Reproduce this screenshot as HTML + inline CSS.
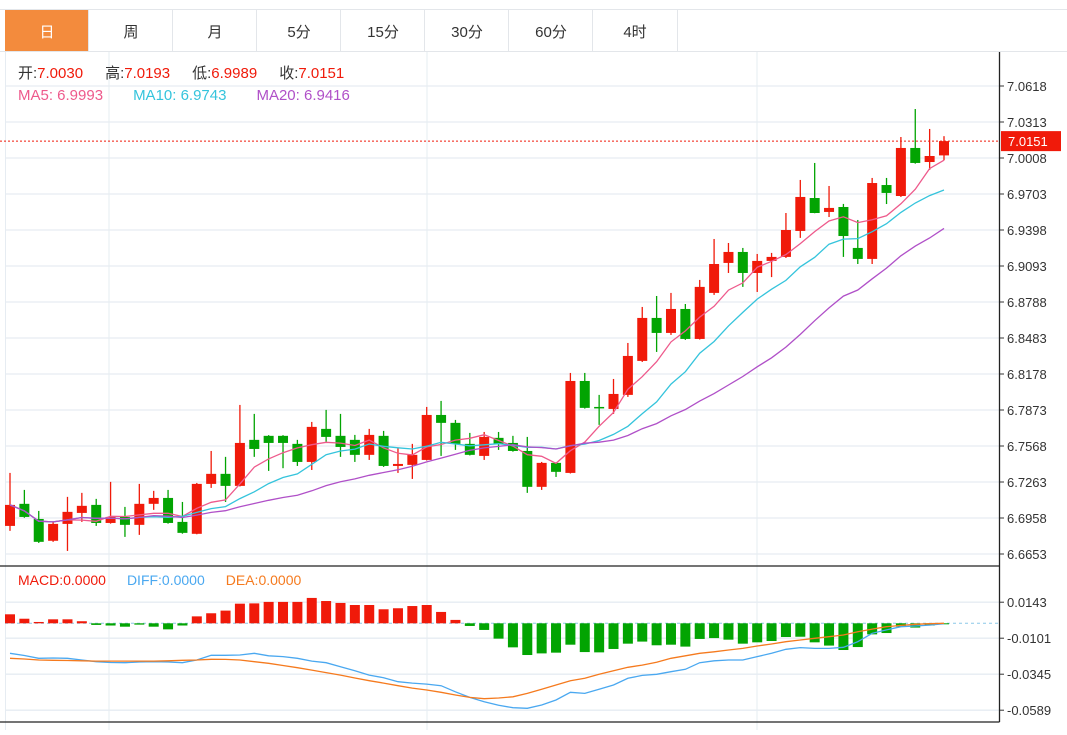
<!DOCTYPE html>
<html><head><meta charset="utf-8">
<style>
html,body{margin:0;padding:0;background:#fff;}
body{width:1067px;height:730px;overflow:hidden;font-family:"Liberation Sans","Noto Sans CJK SC",sans-serif;}
svg text{font-family:"Liberation Sans","Noto Sans CJK SC",sans-serif;}
</style></head>
<body>
<svg id="chart" width="1067" height="730" xmlns="http://www.w3.org/2000/svg">
<g id="tabs">
  <line x1="0" y1="9.5" x2="1067" y2="9.5" stroke="#e3e6ea"/>
  <line x1="0" y1="51.5" x2="1067" y2="51.5" stroke="#e3e6ea"/>
  <rect x="5" y="10" width="83" height="41" fill="#f38b3d"/>
  <text x="47" y="37" font-size="15" fill="#fff" text-anchor="middle">日</text>
  <g fill="#333" font-size="15" text-anchor="middle">
    <text x="131" y="37">周</text>
    <text x="215" y="37">月</text>
    <text x="299" y="37">5分</text>
    <text x="383" y="37">15分</text>
    <text x="467" y="37">30分</text>
    <text x="551" y="37">60分</text>
    <text x="635" y="37">4时</text>
  </g>
  <g stroke="#e3e6ea">
    <line x1="88.5" y1="10" x2="88.5" y2="51"/><line x1="172.5" y1="10" x2="172.5" y2="51"/>
    <line x1="256.5" y1="10" x2="256.5" y2="51"/><line x1="340.5" y1="10" x2="340.5" y2="51"/>
    <line x1="424.5" y1="10" x2="424.5" y2="51"/><line x1="508.5" y1="10" x2="508.5" y2="51"/>
    <line x1="592.5" y1="10" x2="592.5" y2="51"/><line x1="677.5" y1="10" x2="677.5" y2="51"/>
  </g>
</g>
<g id="grid"></g>
<g id="macd"></g>
<g id="candles"></g>
<g id="ma"></g>
<g id="axis"></g>
<g id="legend" font-size="15">
  <text x="18" y="78"><tspan fill="#333">开:</tspan><tspan fill="#f01a0a">7.0030</tspan><tspan fill="#333" dx="22">高:</tspan><tspan fill="#f01a0a">7.0193</tspan><tspan fill="#333" dx="22">低:</tspan><tspan fill="#f01a0a">6.9989</tspan><tspan fill="#333" dx="22">收:</tspan><tspan fill="#f01a0a">7.0151</tspan></text>
  <text x="18" y="100"><tspan fill="#ee5a8c">MA5: 6.9993</tspan><tspan fill="#35c4dc" dx="30">MA10: 6.9743</tspan><tspan fill="#b050c8" dx="30">MA20: 6.9416</tspan></text>
  <text x="18" y="585" font-size="14"><tspan fill="#f01a0a">MACD:0.0000</tspan><tspan fill="#4aa8f0" dx="21">DIFF:0.0000</tspan><tspan fill="#f57a1e" dx="21">DEA:0.0000</tspan></text>
</g>
</svg>
<script>
const opens  = [6.6891,6.7078,6.6950,6.6765,6.6908,6.7001,6.7069,6.6916,6.6967,6.6900,6.7078,6.7128,6.6925,6.6824,6.7247,6.7332,6.7230,6.7620,6.7654,6.7654,6.7586,6.7433,6.7713,6.7654,6.7620,6.7493,6.7654,6.7399,6.7408,6.7450,6.7831,6.7764,6.7586,6.7484,6.7637,6.7594,6.7526,6.7222,6.7425,6.7340,6.8119,6.7899,6.7882,6.8001,6.8289,6.8653,6.8526,6.8729,6.8475,6.8865,6.9119,6.9212,6.9034,6.9136,6.9170,6.9390,6.9669,6.9551,6.9593,6.9246,6.9153,6.9779,6.9686,7.0093,6.9974,7.0030];
const highs  = [6.7340,6.7196,6.7018,6.6925,6.7137,6.7171,6.7120,6.7264,6.7052,6.7247,6.7188,6.7196,6.7094,6.7255,6.7526,6.7476,6.7916,6.7840,6.7660,6.7660,6.7620,6.7772,6.7874,6.7840,6.7662,6.7713,6.7696,6.7552,6.7586,6.7899,6.7950,6.7789,6.7679,6.7687,6.7687,6.7654,6.7645,6.7433,6.7430,6.8187,6.8187,6.8001,6.8136,6.8441,6.8746,6.8839,6.8865,6.8771,6.8975,6.9322,6.9288,6.9246,6.9195,6.9204,6.9542,6.9822,6.9966,6.9771,6.9619,6.9483,6.9839,6.9839,7.0186,7.0423,7.0254,7.0193];
const lows   = [6.6849,6.6960,6.6747,6.6756,6.6679,6.6925,6.6891,6.6910,6.6798,6.6815,6.7027,6.6910,6.6825,6.6820,6.7213,6.7094,6.7225,6.7476,6.7357,6.7380,6.7399,6.7365,6.7603,6.7476,6.7433,6.7450,6.7391,6.7340,6.7289,6.7445,6.7484,6.7535,6.7488,6.7450,6.7535,6.7520,6.7171,6.7196,6.7306,6.7335,6.7885,6.7747,6.7840,6.7984,6.8280,6.8365,6.8509,6.8467,6.8470,6.8848,6.9034,6.8916,6.8873,6.8999,6.9161,6.9331,6.9540,6.9508,6.9170,6.9110,6.9110,6.9618,6.9678,6.9960,6.9907,6.9989];
const closes = [6.7069,6.6967,6.6756,6.6908,6.7010,6.7061,6.6916,6.6967,6.6900,6.7078,6.7128,6.6916,6.6832,6.7247,6.7332,6.7230,6.7594,6.7543,6.7594,6.7594,6.7433,6.7730,6.7645,6.7560,6.7493,6.7662,6.7399,6.7416,6.7493,6.7831,6.7764,6.7586,6.7493,6.7645,6.7586,6.7526,6.7222,6.7425,6.7349,6.8119,6.7891,6.7891,6.8009,6.8331,6.8653,6.8526,6.8729,6.8475,6.8916,6.9110,6.9212,6.9034,6.9136,6.9170,6.9398,6.9678,6.9542,6.9585,6.9347,6.9153,6.9796,6.9712,7.0093,6.9966,7.0025,7.0151];
const priceTicks = [7.0618,7.0313,7.0008,6.9703,6.9398,6.9093,6.8788,6.8483,6.8178,6.7873,6.7568,6.7263,6.6958,6.6653];
const macdHist = [0.0061,0.0031,0.0009,0.0027,0.0027,0.0014,-0.0011,-0.0015,-0.0023,-0.0009,-0.0023,-0.0041,-0.0015,0.0047,0.0068,0.0086,0.0133,0.0135,0.0145,0.0145,0.0145,0.0172,0.0151,0.0138,0.0124,0.0124,0.0095,0.0102,0.0117,0.0124,0.0077,0.0023,-0.0018,-0.0045,-0.0104,-0.0163,-0.0215,-0.0204,-0.0199,-0.0145,-0.0195,-0.0197,-0.0174,-0.0138,-0.0124,-0.0149,-0.0145,-0.0158,-0.0106,-0.0100,-0.0111,-0.0138,-0.0129,-0.0120,-0.0093,-0.0091,-0.0129,-0.0151,-0.0181,-0.0161,-0.0075,-0.0066,-0.0023,-0.0029,-0.0015,-0.0005];
const diffVals = [-0.0203,-0.0218,-0.0237,-0.0235,-0.0237,-0.0249,-0.0260,-0.0266,-0.0267,-0.0262,-0.0260,-0.0262,-0.0267,-0.0249,-0.0217,-0.0217,-0.0215,-0.0203,-0.0220,-0.0226,-0.0237,-0.0256,-0.0267,-0.0294,-0.0321,-0.0351,-0.0369,-0.0396,-0.0405,-0.0412,-0.0423,-0.0464,-0.0502,-0.0532,-0.0556,-0.0572,-0.0576,-0.0554,-0.0520,-0.0468,-0.0475,-0.0447,-0.0418,-0.0373,-0.0353,-0.0346,-0.0328,-0.0312,-0.0267,-0.0254,-0.0249,-0.0249,-0.0226,-0.0203,-0.0176,-0.0165,-0.0170,-0.0170,-0.0163,-0.0125,-0.0068,-0.0045,-0.0023,-0.0018,-0.0012,-0.0003];
const deaVals = [-0.0237,-0.0242,-0.0249,-0.0251,-0.0252,-0.0254,-0.0256,-0.0256,-0.0256,-0.0256,-0.0256,-0.0254,-0.0251,-0.0249,-0.0244,-0.0245,-0.0249,-0.0260,-0.0271,-0.0286,-0.0301,-0.0317,-0.0334,-0.0351,-0.0371,-0.0389,-0.0405,-0.0423,-0.0439,-0.0452,-0.0468,-0.0486,-0.0502,-0.0511,-0.0506,-0.0498,-0.0475,-0.0447,-0.0418,-0.0389,-0.0373,-0.0346,-0.0321,-0.0298,-0.0283,-0.0264,-0.0237,-0.0220,-0.0203,-0.0193,-0.0181,-0.0170,-0.0154,-0.0140,-0.0125,-0.0113,-0.0102,-0.0091,-0.0079,-0.0057,-0.0039,-0.0023,-0.0014,-0.0007,-0.0003,0.0000];
const macdTicks = [0.0143,-0.0101,-0.0345,-0.0589];
const lastPrice = 7.0151;

const NS='http://www.w3.org/2000/svg';
const RED='#f01a0a', GREEN='#02a402';
function mk(tag, attrs, parent){const e=document.createElementNS(NS,tag);for(const k in attrs)e.setAttribute(k,attrs[k]);parent.appendChild(e);return e;}
const xOf = i => 10 + i*(934/(closes.length-1));
const yP = v => 86 + (7.0618 - v)/0.0305*36;
const yM = v => 623.3 - v/0.0244*36;

const grid=document.getElementById('grid');
priceTicks.forEach(t=>{const l=mk('line',{x1:5,x2:999,y1:yP(t),y2:yP(t),stroke:'#e6ecf2','stroke-width':1.3},grid);

});
macdTicks.forEach(t=>{const l=mk('line',{x1:5,x2:999,y1:yM(t),y2:yM(t),stroke:'#e6ecf2','stroke-width':1.3},grid);

});
[5.5,109,427,757].forEach(x=>{const l=mk('line',{x1:x,x2:x,y1:52,y2:730,stroke:'#e6ecf2','stroke-width':1},grid);

});

const cg=document.getElementById('candles');
closes.forEach((c,i)=>{
  const o=opens[i],up=c>=o,col=up?RED:GREEN,x=xOf(i);
  const g=mk('g',{},cg);
  
  
  mk('line',{x1:x,x2:x,y1:yP(highs[i]),y2:yP(lows[i]),stroke:col,'stroke-width':1.3},g);
  const top=yP(Math.max(o,c)),bot=yP(Math.min(o,c));
  mk('rect',{x:x-5,y:top,width:10,height:Math.max(1.5,bot-top),fill:col},g);
});

const mg=document.getElementById('ma');
function ma(n){return closes.map((_,i)=>{const s=Math.max(0,i-n+1);let t=0;for(let k=s;k<=i;k++)t+=closes[k];return t/(i-s+1);});}
[[5,'#ee5a8c','ma5-line'],[10,'#35c4dc','ma10-line'],[20,'#b050c8','ma20-line']].forEach(([n,col,name])=>{
  const d=ma(n).map((v,i)=>(i?'L':'M')+xOf(i).toFixed(1)+','+yP(v).toFixed(1)).join('');
  const p=mk('path',{d:d,fill:'none',stroke:col,'stroke-width':1.3},mg);
  
  
});

const macdG=document.getElementById('macd');
const zl=mk('line',{x1:5,x2:999,y1:yM(0),y2:yM(0),stroke:'#8cc8e8','stroke-dasharray':'3,3'},macdG);


macdHist.forEach((v,i)=>{
  const y0=yM(0),y1=yM(v);
  const r=mk('rect',{x:xOf(i)-5,y:Math.min(y0,y1),width:10,height:Math.max(1,Math.abs(y1-y0)),fill:v>=0?RED:GREEN},macdG);
  
  
});
[[diffVals,'#4aa8f0','diff-line'],[deaVals,'#f57a1e','dea-line']].forEach(([arr,col,name])=>{
  const d=arr.map((v,i)=>(i?'L':'M')+xOf(i).toFixed(1)+','+yM(v).toFixed(1)).join('');
  const p=mk('path',{d:d,fill:'none',stroke:col,'stroke-width':1.3},macdG);
  
  
});

const ax=document.getElementById('axis');
const frame=[[999.5,52,999.5,722],[0,566,999.5,566],[0,722,999.5,722]];
frame.forEach(f=>{const l=mk('line',{x1:f[0],y1:f[1],x2:f[2],y2:f[3],stroke:'#222','stroke-width':1.3},ax);

});
priceTicks.forEach(t=>{const y=yP(t);
  mk('line',{x1:1000,x2:1004,y1:y,y2:y,stroke:'#333'},ax);
  const tx=mk('text',{x:1007,y:y+5,'font-size':13,fill:'#333'},ax);tx.textContent=t.toFixed(4);
  
  });
macdTicks.forEach(t=>{const y=yM(t);
  mk('line',{x1:1000,x2:1004,y1:y,y2:y,stroke:'#333'},ax);
  const tx=mk('text',{x:1007,y:y+5,'font-size':13,fill:'#333'},ax);tx.textContent=t.toFixed(4);
  
  });
const ly=yP(lastPrice);
const pl=mk('line',{x1:0,x2:999,y1:ly,y2:ly,stroke:RED,'stroke-dasharray':'2,2','stroke-width':1},ax);


const lb=mk('rect',{x:1001,y:ly-10,width:60,height:20,fill:RED},ax);


const lt=mk('text',{x:1008,y:ly+5,'font-size':13,fill:'#fff'},ax);lt.textContent=lastPrice.toFixed(4);
</script>
</body></html>
